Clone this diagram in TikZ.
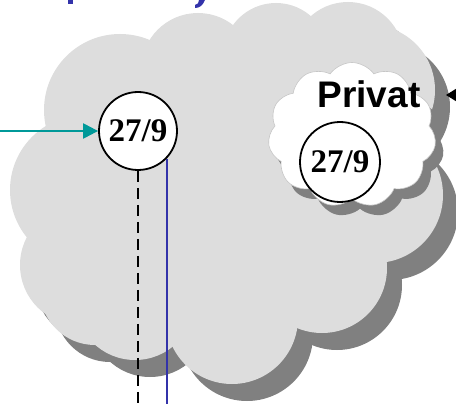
\documentclass[tikz,border=0pt]{standalone}
\usepackage{fontspec}
\setmainfont{Liberation Serif}
\newfontfamily\arialfont{Liberation Sans}
\usetikzlibrary{arrows.meta, shapes.symbols}
\definecolor{cloudgray}{HTML}{DDDDDD}
\definecolor{shadowgray}{HTML}{808080}
\definecolor{linkteal}{HTML}{009999}
\definecolor{titleblue}{HTML}{3333AA}

\begin{document}
\begin{tikzpicture}[
    x=1pt, y=-1pt,
    keynum/.style={draw, circle, line width=1.8pt, fill=white, minimum size=78pt, inner sep=0pt, font=\fontsize{33}{33}\selectfont\bfseries},
    puffcloud/.style={cloud, cloud puffs=11, cloud puff arc=110, aspect=1.2, minimum width=168pt, minimum height=145pt, inner sep=0pt},
    line/.style={line width=2.2pt}
]
\useasboundingbox (0,0) rectangle (456,404);
\clip (0,0) rectangle (456,404);
% big cloud: shadow first, then the light puffs
\foreach \dx/\dy/\col in {15/17/shadowgray, 0/0/cloudgray}
  \foreach \cx/\cy/\r in {120/110/76, 198/70/57, 276/56/53, 348/58/56, 370/90/65,
                          375/195/68, 322/268/65, 232/318/66, 135/300/60, 80/265/60,
                          95/290/55, 85/190/75, 230/200/120}
    \fill[\col] (\cx+\dx,\cy+\dy) circle[radius=\r pt];
% cut-off title
\fill[titleblue] (68,0) rectangle (73,4);
\fill[titleblue] (199,0) -- (205,0) .. controls (203,5) and (200,8) .. (195,8) -- (195,5) .. controls (198,4) .. (199,0) -- cycle;
% private cloud
\node[puffcloud, fill=shadowgray] (privshadow) at (360,145) {};
\node[puffcloud, fill=white, draw=gray!45, line width=0.6pt] (privcloud) at (352,135) {};
\node[font=\arialfont\fontsize{37}{37}\selectfont\bfseries, inner sep=0pt] (privlabel) at (369,94) {Privat};
\node[keynum] (pubkey) at (138,131) {27/9};
\node[keynum, minimum size=80pt] (privkey) at (340,162) {27/9};
\coordinate (inlet) at (0,131);
\coordinate (bottom) at (0,404);
\coordinate (privtip) at (446,95);
\coordinate (privtail) at (470,95);
\draw[line, linkteal, -{Triangle[length=15pt,width=15pt]}] (inlet) -- (pubkey.west);
\draw[line, dash pattern=on 11pt off 6pt] (pubkey.south) -- (pubkey.south |- bottom);
\draw[line width=2pt, titleblue] (pubkey.-44) -- (pubkey.-44 |- bottom);
\draw[line width=1.5pt, -{Triangle[length=10pt,width=12pt]}] (privtail) -- (privtip);
\end{tikzpicture}
\end{document}
